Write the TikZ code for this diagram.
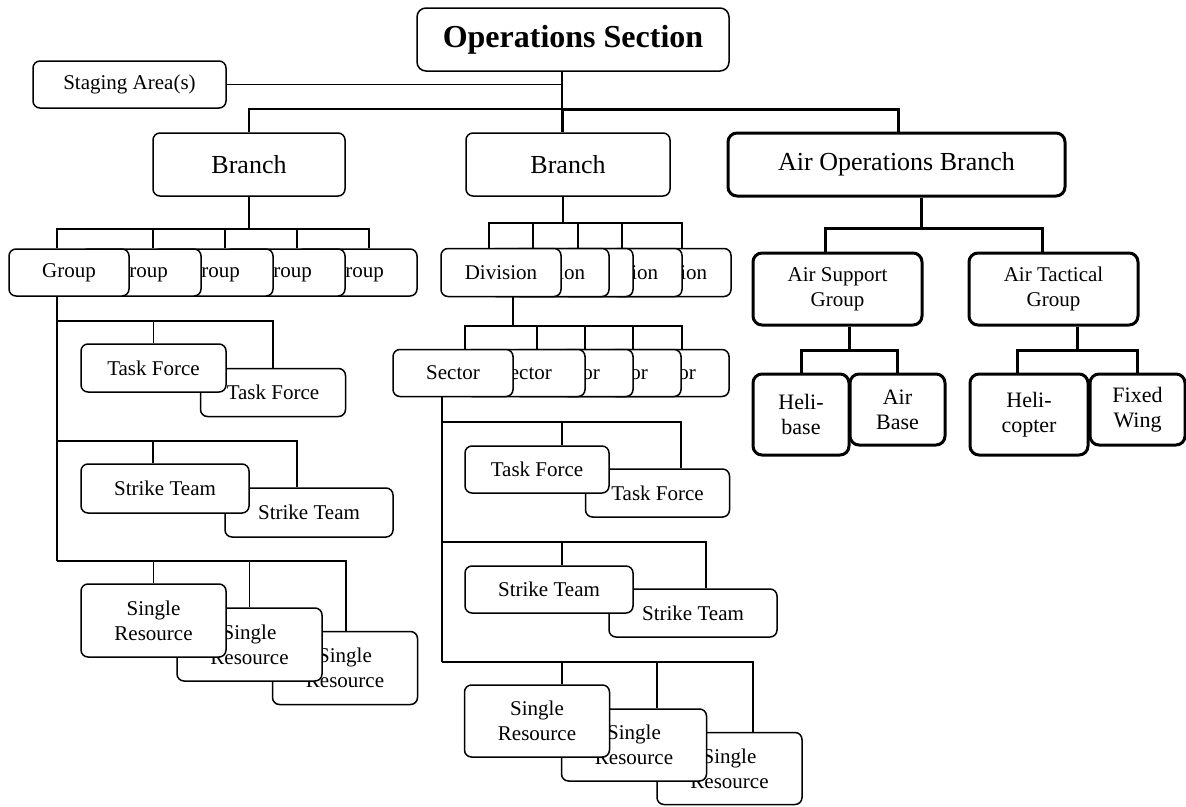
\documentclass[tikz,border=0pt]{standalone}
\usepackage{fontspec}
\setmainfont{Liberation Serif}
\usetikzlibrary{positioning}

\tikzset{
  unit/.style={draw, fill=white, rounded corners=7pt, line width=1.5pt, inner sep=0pt,
    align=center, font=\fontsize{21}{25}\selectfont},
  airunit/.style={unit, line width=3pt, rounded corners=9pt},
  sz/.style 2 args={minimum width=#1pt, minimum height=#2pt},
  link/.style={line width=1.8pt},
  airlink/.style={line width=3pt},
}

\begin{document}
\begin{tikzpicture}[x=1pt,y=-1pt]
    \useasboundingbox (0,0) rectangle (1186,806);
    \node[unit, sz={312}{63}, rounded corners=9pt, font=\fontsize{32}{36}\selectfont\bfseries] (ops) at (573,39.5) {Operations Section};
    \node[unit, sz={193}{47}] (stage) at (129.5,84.5) {Staging Area(s)};
    \node[unit, sz={192}{63}, font=\fontsize{26}{30}\selectfont] (br1) at (249,164.5) {Branch};
    \node[unit, sz={204}{63}, font=\fontsize{26}{30}\selectfont] (br2) at (568,164.5) {Branch};
    \node[airunit, sz={337}{63}, font=\fontsize{26}{30}\selectfont] (air) at (896.5,164.5) {Air Operations Branch};

    \foreach \i/\x in {5/357,4/285,3/213,2/141,1/69}
        \node[unit, sz={120}{47}] (g\i) at (\x,272.5) {Group};
    \foreach \i/\x in {5/671,4/622,3/573,2/549,1/501}
        \node[unit, sz={120}{48}] (d\i) at (\x,272.5) {Division};
    \foreach \i/\x in {5/669,4/621,3/573,2/525,1/453}
        \node[unit, sz={120}{47}] (s\i) at (\x,373) {Sector};

    \node[unit, sz={145}{48}] (ltf2) at (273,392.5) {Task Force};
    \node[unit, sz={145}{48}] (ltf1) at (153.5,368) {Task Force};
    \node[unit, sz={168}{49}] (lst2) at (309,512.5) {Strike Team};
    \node[unit, sz={168}{49}] (lst1) at (165,488.5) {Strike Team};
    \node[unit, sz={145}{73}] (lsr3) at (345,668) {Single\\Resource};
    \node[unit, sz={145}{73}] (lsr2) at (249.5,644.5) {Single\\Resource};
    \node[unit, sz={145}{73}] (lsr1) at (153.5,620.5) {Single\\Resource};

    \node[unit, sz={144}{48}] (mtf2) at (657.5,493) {Task Force};
    \node[unit, sz={144}{47}] (mtf1) at (537,469.5) {Task Force};
    \node[unit, sz={168}{48}] (mst2) at (693,613) {Strike Team};
    \node[unit, sz={168}{47}] (mst1) at (549,589.5) {Strike Team};
    \node[unit, sz={145}{72}] (msr3) at (729.5,768.5) {Single\\Resource};
    \node[unit, sz={145}{72}] (msr2) at (634,745) {Single\\Resource};
    \node[unit, sz={145}{72}] (msr1) at (537,721) {Single\\Resource};

    \node[airunit, sz={169}{72}] (asg) at (837.5,289) {Air Support\\Group};
    \node[airunit, sz={169}{72}] (atg) at (1053.5,289) {Air Tactical\\Group};
    \node[airunit, sz={95}{71}, font=\fontsize{22}{25}\selectfont] (ab) at (897.5,409.5) {Air\\Base};
    \node[airunit, sz={96}{81}, font=\fontsize{22}{25}\selectfont] (hb) at (801,414.5) {Heli-\\base};
    \node[airunit, sz={95}{71}, font=\fontsize{22}{25}\selectfont] (fw) at (1137.5,409.5) {Fixed\\Wing};
    \node[airunit, sz={118}{81}, font=\fontsize{22}{25}\selectfont] (hc) at (1029,414.5) {Heli-\\copter};

    \coordinate (top) at (562,109);
    \draw[link] ([xshift=-11pt]ops.south) -- (top);
    \draw[link] (stage.east) -- (stage.east -| top);
    \draw[link] (top) -| (br1.north);
    \draw[airlink] (top) -- (br2.north -| top);
    \draw[airlink] (top) -| ([xshift=1.5pt]air.north);

    \coordinate (gbus) at (249,229);
    \draw[link] (br1.south) -- (gbus);
    \draw[link] (gbus) -| ([xshift=-12pt]g1.north);
    \foreach \i in {2,...,5}
        \draw[link] (gbus) -| ([xshift=12pt]g\i.north);

    \coordinate (ltfbus) at (57,321);
    \coordinate (lstbus) at (57,441);
    \coordinate (lfoot) at (57,561);
    \draw[link] ([xshift=-12pt]g1.south) -- (lfoot);
    \draw[link] (ltfbus) -| (ltf1.north);
    \draw[link] (ltfbus) -| (ltf2.north);
    \draw[link] (lstbus) -| ([xshift=-12pt]lst1.north);
    \draw[link] (lstbus) -| ([xshift=-12pt]lst2.north);
    \draw[link] (lfoot) -| (lsr1.north);
    \draw[link] (lfoot) -| (lsr2.north);
    \draw[link] (lfoot) -| ([xshift=1pt]lsr3.north);

    \coordinate (dbus) at (563,223);
    \draw[link] ([xshift=-5pt]br2.south) -- (dbus);
    \foreach \i/\s in {1/-12,2/-16,3/5,4/0,5/11}
        \draw[link] (dbus) -| ([xshift=\s pt]d\i.north);

    \coordinate (sbus) at (513,326);
    \draw[link] ([xshift=12pt]d1.south) -- (sbus);
    \foreach \i/\s in {1/12,2/12,3/12,4/12,5/13}
        \draw[link] (sbus) -| ([xshift=\s pt]s\i.north);

    \coordinate (mtfbus) at (442,422);
    \coordinate (mstbus) at (442,542);
    \coordinate (mfoot) at (442,662);
    \draw[link] ([xshift=-11pt]s1.south) -- (mfoot);
    \draw[link] (mtfbus) -| ([xshift=25pt]mtf1.north);
    \draw[link] (mtfbus) -| ([xshift=23.5pt]mtf2.north);
    \draw[link] (mstbus) -| ([xshift=13pt]mst1.north);
    \draw[link] (mstbus) -| ([xshift=13pt]mst2.north);
    \draw[link] (mfoot) -| ([xshift=25pt]msr1.north);
    \draw[link] (mfoot) -| ([xshift=23pt]msr2.north);
    \draw[link] (mfoot) -| ([xshift=23.5pt]msr3.north);

    \coordinate (abus) at (921,228);
    \draw[airlink] ([xshift=24.5pt]air.south) -- (abus);
    \draw[airlink] (abus) -| ([xshift=-12.5pt]asg.north);
    \draw[airlink] (abus) -| ([xshift=-11.5pt]atg.north);
    \coordinate (asbus) at (849,350);
    \draw[airlink] ([xshift=11.5pt]asg.south) -- (asbus);
    \draw[airlink] (asbus) -| (hb.north);
    \draw[airlink] (asbus) -| (ab.north);
    \coordinate (atbus) at (1077,350);
    \draw[airlink] ([xshift=23.5pt]atg.south) -- (atbus);
    \draw[airlink] (atbus) -| ([xshift=-12pt]hc.north);
    \draw[airlink] (atbus) -| (fw.north);
\end{tikzpicture}
\end{document}
